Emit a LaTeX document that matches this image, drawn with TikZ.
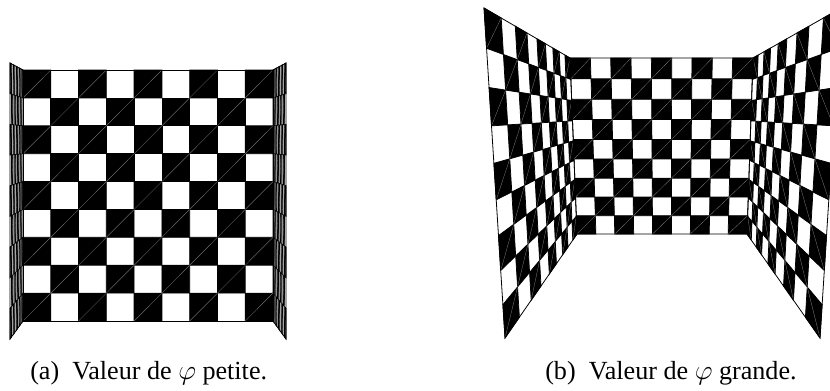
\documentclass[tikz,border=0pt]{standalone}
\usepackage{fontspec}
\setmainfont{Liberation Serif}
\usetikzlibrary{calc}
\definecolor{square}{HTML}{000000}
\definecolor{seam}{HTML}{8A8A8A}
\tikzset{
  declare function={persp(\s,\k)=\s/(\k*(1-\s)+\s);},
  blackcell/.style={fill=square,draw=square,line width=.55pt},
  seamline/.style={draw=seam,line width=.2pt},
  wallframe/.style={draw=square,line width=.6pt},
  caption/.style={font=\fontsize{19.6}{23}\selectfont,anchor=base west,inner sep=0pt},
}
% corners: top inner/outer order as drawn, then depth ratios across and down
\newcommand{\checkerwall}[7]{%
  \coordinate (tl) at (#1);
  \coordinate (tr) at (#2);
  \coordinate (bl) at (#3);
  \coordinate (br) at (#4);
  \foreach \i in {0,...,9}{
    \foreach \j in {0,...,9}{
      \pgfmathsetmacro{\tu}{persp(\i/9,#5)}
      \pgfmathsetmacro{\tv}{persp(\j/9,#6)}
      \coordinate (g-\i-\j) at ($($(tl)!\tv!(bl)$)!\tu!($(tr)!\tv!(br)$)$);
    }
  }
  \foreach \i in {0,...,8}{
    \foreach \j in {0,...,8}{
      \pgfmathtruncatemacro{\even}{mod(\i+\j,2)}
      \pgfmathtruncatemacro{\ii}{\i+1}
      \pgfmathtruncatemacro{\jj}{\j+1}
      \ifnum\even=0
        \filldraw[blackcell] (g-\i-\j) -- (g-\ii-\j) -- (g-\ii-\jj) -- (g-\i-\jj) -- cycle;
        \ifnum#7=0
          \draw[seamline] (g-\i-\jj) -- (g-\ii-\j);
        \else
          \draw[seamline] (g-\i-\j) -- (g-\ii-\jj);
        \fi
      \fi
    }
  }
  \draw[wallframe] (tl) -- (tr) -- (br) -- (bl) -- cycle;
}
\begin{document}
\begin{tikzpicture}[x=.75pt,y=-.75pt]
\useasboundingbox (0,0) rectangle (830,390);
\clip (0,0) rectangle (830,390);

% small angle
\checkerwall{10,63}{23,70}{10,339}{23,321}{.906}{1}{0}
\checkerwall{273,70}{286,63}{273,321}{286,339}{1.104}{1}{1}
\checkerwall{23,70}{273,70}{23,321}{273,321}{1}{1}{0}

% large angle
\checkerwall{484,8}{570,58}{505,338}{577,234}{.5}{.9}{0}
\checkerwall{753,58}{841,8}{747,234}{820,338}{2}{.9}{1}
\checkerwall{570,58}{753,58}{577,234}{747,234}{1}{.93}{0}

\node[caption] (capa) at (30,379) {(a)\enspace Valeur de $\varphi$ petite.};
\node[caption] (capb) at (545,379) {(b)\enspace Valeur de $\varphi$ grande.};
\end{tikzpicture}
\end{document}
